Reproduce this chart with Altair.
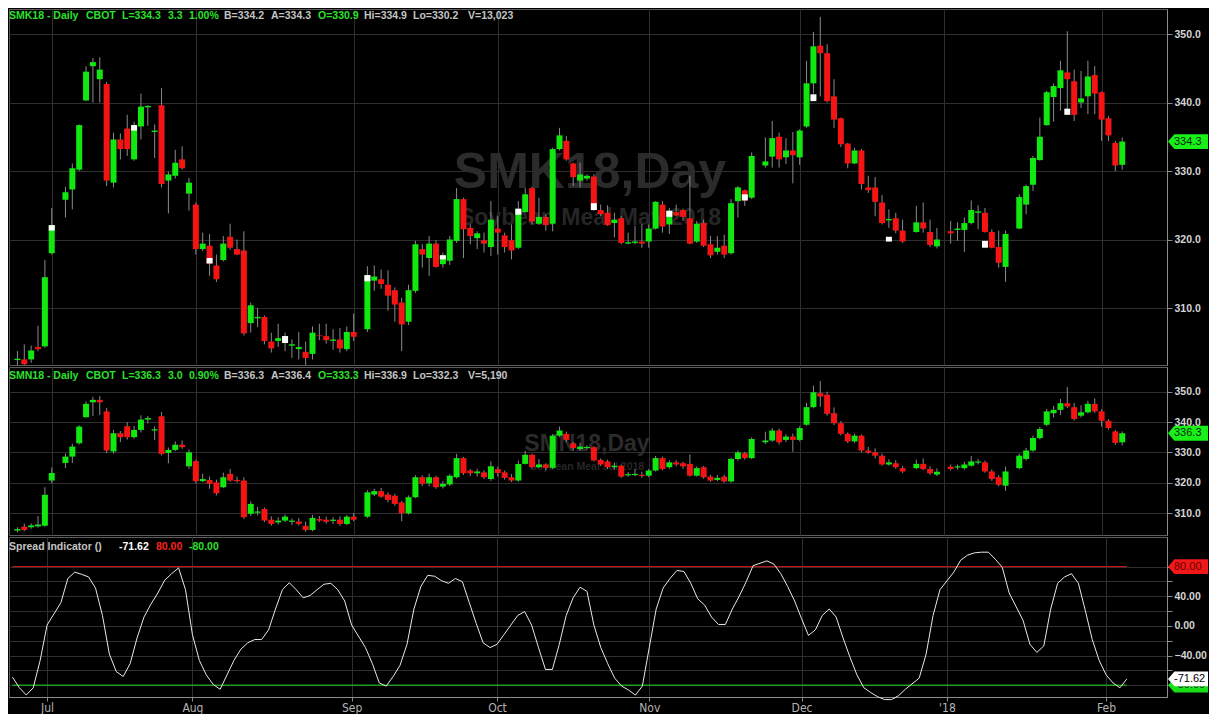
import json
import altair as alt
import numpy as np
import pandas as pd

# ---------------- calendar ----------------
FIRST_DAY = "2017-06-26"
LAST_DAY = "2018-02-06"
HOLIDAYS = ["2017-07-04", "2017-09-04", "2017-11-23", "2017-12-25", "2018-01-01", "2018-01-15"]
MONTH_STARTS = ["2017-07-03", "2017-08-01", "2017-09-01", "2017-10-02",
                "2017-11-01", "2017-12-01", "2018-01-01", "2018-02-01"]
MONTH_LABELS = ["Jul", "Aug", "Sep", "Oct", "Nov", "Dec", "'18", "Feb"]

# ---------------- SMK18 (upper panel) ----------------
smk_open = [302.4, 302.5, 302.5, 304.3, 304.4, 318.0,
            325.8, 327.3, 330.2, 340.3, 345.3, 343.4, 342.7, 328.3, 334.6, 336.2, 331.7, 336.5, 339.3, 335.7, 339.6, 328.6, 329.3, 331.7, 326.7,
            325.1, 318.6, 319.1, 316.2, 317.0, 320.4, 318.6, 318.4, 307.8, 308.5, 308.7, 305.1, 305.2, 304.9, 304.5, 304.0, 303.6, 303.3, 306.0, 305.9, 305.2, 305.4, 304.0, 306.5,
            306.9, 314.0, 314.2, 313.4, 312.6, 310.8, 308.0, 312.5, 318.6, 317.3, 319.4, 316.4, 316.9, 319.8, 325.9, 321.7, 320.2, 319.9, 318.9, 321.6, 320.6, 319.9, 318.8, 324.0, 327.5, 322.3, 323.3, 322.3, 333.2, 334.4, 331.1, 328.6, 328.9, 329.2, 324.3, 323.9, 322.4, 323.1, 319.4, 319.5, 319.7, 319.7, 321.6, 325.1, 322.2, 324.0, 324.3, 323.1, 319.7, 322.4, 319.3, 318.2, 319.1, 318.0, 325.6, 327.2, 326.1,
            330.8, 332.1, 335.0, 332.0, 333.0, 332.0, 336.5, 342.8, 348.3, 347.2, 340.9, 337.7, 334.0, 331.1, 333.0, 327.6, 327.6, 325.4, 322.8, 323.1, 321.3,
            321.1, 322.5, 321.1, 319.0,
            321.2, 321.4, 321.4, 322.4, 323.9, 323.9, 321.1, 318.9, 316.0,
            321.6, 325.1, 328.0, 331.6, 336.7, 340.8, 342.1, 344.4, 343.1, 340.0, 340.9, 344.0, 341.5, 337.7, 334.1, 330.9]
smk_high = [303.7, 304.7, 304.5, 307.4, 317.0, 324.6,
            327.7, 331.1, 336.8, 345.3, 346.5, 346.6, 343.0, 335.6, 335.5, 338.2, 337.2, 341.3, 339.6, 336.8, 342.1, 329.9, 333.1, 333.6, 329.0,
            325.4, 321.0, 320.8, 317.8, 320.5, 322.3, 320.0, 321.2, 310.8, 310.0, 308.9, 306.4, 307.7, 306.4, 305.4, 306.5, 305.1, 307.3, 307.7, 307.7, 306.9, 307.1, 307.3, 309.2,
            316.1, 316.2, 315.6, 315.5, 313.0, 311.5, 313.4, 319.8, 319.3, 320.5, 319.9, 318.1, 320.5, 327.5, 326.1, 322.2, 321.2, 321.0, 325.6, 323.4, 321.0, 322.2, 325.6, 327.5, 327.7, 326.1, 323.7, 333.4, 336.3, 335.1, 331.2, 331.2, 329.5, 329.5, 325.1, 325.0, 323.9, 323.4, 321.0, 322.0, 322.2, 322.2, 325.6, 325.6, 324.6, 325.1, 324.5, 329.3, 322.7, 322.9, 320.5, 320.5, 320.7, 325.9, 327.8, 327.3, 332.7,
            334.9, 337.3, 335.6, 334.8, 335.7, 336.1, 346.1, 350.3, 352.5, 348.5, 343.4, 337.8, 334.1, 333.4, 333.2, 329.3, 329.1, 326.5, 324.4, 323.9, 322.9,
            324.9, 325.4, 322.9, 321.7,
            322.7, 322.5, 323.2, 325.7, 325.0, 324.6, 321.5, 321.3, 321.3,
            326.6, 328.0, 332.2, 337.8, 341.7, 342.8, 346.1, 350.4, 344.8, 344.6, 346.1, 345.3, 341.6, 338.0, 334.4, 334.9]
smk_low = [301.5, 301.6, 302.0, 303.7, 304.2, 317.8,
           323.2, 324.4, 330.0, 340.2, 340.0, 340.0, 327.8, 327.6, 331.7, 332.2, 331.5, 334.6, 336.6, 331.9, 327.6, 323.8, 328.9, 330.2, 324.2,
           317.8, 318.3, 314.7, 313.8, 316.8, 318.5, 317.7, 306.0, 306.4, 307.2, 304.7, 303.5, 304.3, 303.7, 302.7, 302.5, 301.3, 302.5, 305.3, 304.8, 303.9, 303.5, 303.7, 305.2,
           306.5, 312.5, 312.8, 309.6, 308.0, 303.7, 307.5, 312.2, 315.9, 314.7, 315.9, 315.9, 316.3, 319.5, 317.3, 319.3, 318.6, 318.1, 317.6, 317.8, 318.1, 317.1, 318.6, 323.9, 322.2, 322.2, 321.3, 321.2, 333.0, 331.5, 327.8, 327.6, 328.6, 324.2, 323.4, 322.0, 320.3, 319.3, 319.3, 319.3, 318.8, 318.8, 321.5, 321.0, 320.8, 323.4, 322.7, 319.3, 319.5, 318.9, 317.3, 317.8, 317.3, 317.8, 323.2, 324.9, 325.9,
           330.5, 330.5, 330.5, 331.0, 328.2, 330.9, 336.3, 341.3, 340.9, 340.0, 336.3, 333.5, 330.4, 331.0, 327.3, 326.8, 323.4, 322.2, 321.7, 320.9, 319.5,
           321.0, 321.0, 318.9, 318.7,
           319.4, 319.8, 318.2, 322.2, 321.5, 321.0, 318.7, 315.9, 313.8,
           321.5, 323.7, 327.1, 331.5, 336.6, 337.2, 338.8, 338.3, 337.3, 339.2, 338.3, 338.3, 334.4, 334.4, 330.0, 330.2]
smk_close = [302.6, 301.8, 303.8, 304.0, 314.5, 322.1,
             326.9, 330.4, 336.7, 344.5, 345.9, 344.8, 328.6, 334.6, 333.2, 333.2, 336.7, 339.4, 339.5, 335.9, 328.1, 329.5, 331.2, 330.4, 328.3,
             318.6, 319.4, 316.5, 314.2, 319.4, 318.8, 317.8, 306.3, 310.4, 308.7, 305.2, 304.1, 305.6, 305.9, 304.7, 304.3, 302.7, 306.4, 305.9, 305.3, 305.4, 304.1, 306.5, 305.8,
             314.8, 314.6, 313.5, 311.8, 310.5, 307.6, 312.6, 319.3, 317.8, 319.4, 316.0, 317.7, 320.0, 325.9, 321.5, 320.5, 320.9, 319.4, 322.9, 321.0, 318.9, 318.4, 324.5, 326.6, 322.6, 323.3, 322.1, 333.2, 335.2, 331.7, 329.1, 329.5, 329.3, 324.3, 323.7, 322.1, 322.9, 319.5, 319.6, 319.7, 319.4, 321.6, 325.5, 321.9, 324.2, 323.5, 323.3, 319.4, 322.3, 319.1, 317.7, 318.8, 317.8, 325.3, 327.6, 325.7, 332.2,
             331.4, 334.8, 331.7, 333.0, 332.3, 335.9, 342.8, 348.2, 347.2, 340.2, 337.5, 333.9, 331.1, 333.0, 328.1, 327.2, 325.5, 322.4, 323.0, 321.3, 319.7,
             322.5, 321.6, 319.2, 320.0,
             320.9, 321.6, 322.4, 324.3, 324.1, 321.1, 318.8, 316.6, 320.8,
             326.2, 327.8, 331.9, 335.0, 341.5, 342.4, 344.7, 343.4, 338.2, 340.6, 343.8, 341.3, 337.5, 335.2, 330.8, 334.3]
# white settlement blocks drawn on some SMK18 candles
smk_white_day = ["2017-07-03", "2017-07-19", "2017-08-03", "2017-08-18", "2017-09-05", "2017-09-20",
                 "2017-10-05", "2017-10-20", "2017-11-06", "2017-11-21", "2017-12-05", "2017-12-20",
                 "2018-01-09", "2018-01-25"]
smk_white_top = [322.1, 336.7, 317.3, 305.9, 314.8, 317.7, 324.5, 325.3, 324.2, 326.6, 341.2, 320.4, 319.8, 339.1]
smk_white_bot = [321.3, 335.9, 316.5, 304.9, 313.9, 317.1, 323.6, 324.3, 323.3, 325.7, 340.2, 319.7, 318.8, 338.2]

# ---------------- SMN18 (middle panel) ----------------
smn_open = [304.2, 305.5, 305.3, 305.6, 305.8, 320.7,
            326.5, 328.6, 333.0, 341.6, 346.5, 347.3, 343.5, 330.3, 336.3, 338.6, 335.0, 337.4, 340.8, 337.2, 341.9, 329.8, 330.8, 332.5, 325.4,
            327.1, 320.5, 320.9, 320.1, 318.5, 322.9, 320.9, 320.7, 309.7, 310.1, 311.3, 307.8, 306.9, 307.5, 307.1, 307.2, 305.8, 304.4, 308.0, 307.8, 307.4, 307.8, 306.4, 308.8,
            308.8, 316.1, 317.2, 316.1, 315.7, 313.5, 309.9, 315.2, 321.8, 319.8, 321.8, 318.7, 319.4, 321.8, 328.1, 324.0, 323.1, 323.4, 321.2, 324.5, 323.4, 321.8, 320.7, 326.2, 329.2, 325.1, 326.0, 324.9, 335.5, 336.1, 333.0, 331.1, 331.4, 331.7, 327.5, 327.0, 325.1, 325.6, 322.4, 322.5, 322.6, 322.3, 324.0, 328.1, 325.1, 326.7, 326.4, 326.2, 322.3, 325.1, 322.0, 320.9, 322.0, 320.4, 327.8, 329.7, 328.1,
            333.3, 333.9, 337.2, 334.1, 335.2, 334.1, 339.1, 344.9, 349.5, 349.0, 342.9, 339.6, 336.1, 333.6, 335.5, 330.6, 330.0, 328.9, 326.0, 326.4, 324.8,
            324.8, 326.2, 324.5, 322.7,
            325.3, 325.0, 324.8, 325.6, 326.6, 326.7, 323.7, 321.8, 319.0,
            324.8, 327.8, 330.6, 334.7, 339.1, 342.9, 344.0, 346.2, 344.9, 342.1, 343.2, 346.0, 343.5, 340.4, 336.9, 333.3]
smn_high = [305.3, 306.5, 306.6, 309.0, 318.5, 325.0,
            329.6, 332.8, 338.9, 346.8, 348.3, 348.6, 344.6, 337.4, 337.0, 340.0, 338.7, 342.2, 342.0, 338.6, 343.3, 331.6, 333.6, 333.9, 330.9,
            327.6, 323.0, 322.0, 321.0, 323.3, 324.5, 322.0, 321.8, 313.8, 312.0, 311.8, 308.9, 308.6, 309.5, 308.2, 308.3, 307.2, 309.4, 309.0, 308.8, 308.6, 308.9, 309.3, 310.0,
            317.5, 318.0, 318.3, 316.8, 316.3, 314.0, 315.8, 322.5, 322.4, 323.0, 322.3, 320.5, 322.8, 329.5, 328.5, 324.5, 324.6, 324.1, 327.0, 325.3, 324.0, 322.8, 327.3, 330.5, 329.5, 327.8, 326.4, 336.0, 338.5, 336.8, 333.4, 333.2, 332.3, 332.0, 328.0, 327.6, 326.6, 326.0, 323.5, 324.3, 323.6, 324.5, 328.8, 328.6, 327.4, 327.4, 326.9, 329.3, 325.4, 325.5, 322.6, 322.5, 322.6, 328.3, 330.6, 330.2, 334.9,
            336.8, 338.0, 337.8, 336.0, 336.2, 338.6, 346.3, 352.0, 353.5, 350.0, 344.8, 340.3, 336.6, 336.2, 335.9, 331.8, 331.3, 329.6, 327.7, 327.4, 325.5,
            327.6, 328.0, 325.4, 324.7,
            326.0, 326.0, 326.9, 328.8, 327.8, 327.3, 324.4, 322.5, 325.3,
            329.6, 331.5, 335.5, 338.4, 344.3, 345.3, 347.6, 351.5, 346.3, 345.5, 347.0, 347.8, 344.2, 341.0, 337.4, 336.9]
smn_low = [303.6, 304.0, 304.8, 305.2, 305.5, 319.8,
           324.8, 326.5, 332.6, 341.4, 342.0, 342.3, 329.8, 329.6, 333.4, 334.2, 334.5, 336.6, 339.5, 334.0, 329.0, 326.4, 330.4, 331.2, 324.6,
           319.8, 320.2, 318.0, 315.8, 318.2, 320.3, 320.0, 308.1, 309.0, 309.2, 307.0, 305.8, 306.2, 307.0, 306.0, 305.9, 303.8, 304.0, 307.0, 306.5, 306.4, 305.8, 306.0, 307.3,
           308.4, 315.6, 315.0, 313.5, 312.4, 307.3, 309.5, 314.9, 318.9, 318.8, 318.0, 318.1, 318.9, 321.4, 322.5, 322.2, 322.0, 321.2, 320.6, 322.0, 321.0, 320.2, 320.3, 326.0, 324.8, 324.8, 324.1, 324.5, 335.1, 333.5, 330.6, 330.5, 331.0, 327.0, 325.5, 324.5, 324.3, 321.6, 322.0, 322.1, 321.6, 321.8, 323.7, 324.0, 324.6, 325.4, 324.6, 322.0, 322.0, 321.3, 320.3, 320.5, 320.0, 320.0, 327.3, 327.6, 327.8,
           332.8, 333.5, 332.6, 333.4, 330.2, 333.6, 338.8, 344.5, 345.0, 342.1, 339.0, 335.6, 333.1, 333.1, 330.0, 329.5, 328.0, 325.6, 325.6, 324.6, 323.2,
           324.4, 324.1, 322.6, 322.2,
           324.0, 324.3, 324.3, 325.3, 326.0, 323.3, 320.6, 318.8, 317.3,
           324.4, 327.3, 330.2, 334.3, 338.6, 341.5, 342.3, 344.6, 340.5, 341.5, 342.8, 343.0, 338.5, 337.5, 332.5, 332.3]
smn_close = [304.7, 304.4, 305.9, 306.2, 316.0, 323.2,
             328.6, 331.9, 338.5, 346.0, 347.3, 346.5, 330.6, 336.3, 335.0, 335.0, 337.4, 340.8, 341.3, 337.6, 329.5, 330.8, 332.5, 331.7, 330.0,
             320.5, 321.2, 319.6, 316.5, 321.8, 320.7, 320.5, 308.6, 313.0, 310.5, 307.5, 306.4, 307.5, 308.8, 307.5, 306.4, 304.4, 308.4, 307.5, 307.1, 307.8, 306.4, 308.8, 307.8,
             316.8, 317.2, 315.4, 314.3, 313.0, 309.9, 315.2, 321.8, 319.6, 321.8, 318.5, 319.6, 322.3, 328.1, 323.1, 323.1, 323.7, 321.8, 325.4, 323.2, 321.6, 320.7, 326.2, 329.2, 325.1, 326.0, 324.9, 335.5, 337.2, 334.1, 331.4, 331.9, 331.8, 327.3, 326.0, 325.1, 325.6, 322.0, 322.8, 322.9, 322.2, 324.0, 328.1, 324.5, 326.7, 326.0, 325.4, 322.3, 324.8, 321.8, 320.7, 321.6, 320.4, 327.8, 330.0, 328.1, 334.4,
             333.9, 337.2, 333.3, 335.2, 334.1, 338.0, 344.9, 349.8, 348.4, 342.7, 339.6, 336.1, 333.6, 335.5, 330.6, 329.9, 328.9, 326.0, 326.7, 325.1, 323.7,
             326.2, 324.5, 323.1, 323.6,
             324.5, 325.4, 326.0, 327.0, 327.0, 323.7, 321.2, 319.3, 323.7,
             328.9, 330.6, 334.7, 337.7, 343.5, 344.0, 346.2, 345.1, 341.0, 343.2, 346.0, 343.5, 340.4, 338.0, 333.1, 336.3]

# ---------------- Spread indicator (lower panel) ----------------
spread = [-69.2, -83.5, -93.4, -83.5, -46.6, 1.1,
          31.4, 64.0, 72.6, 69.6, 66.1, 51.0, 14.1, -38.0, -61.8, -68.3, -51.0, -16.3, 11.9, 29.3, 44.4, 61.8, 70.5, 78.3, 48.8,
          -11.9, -46.6, -66.1, -79.1, -85.6, -66.1, -46.6, -31.4, -22.8, -18.4, -18.4, -5.4, 22.8, 48.8, 58.3, 48.8, 37.9, 41.0, 48.8, 56.2, 57.5, 48.8, 33.6, 1.1,
          -29.3, -51.0, -77.0, -81.3, -68.3, -53.1, -24.9, 22.8, 53.1, 68.3, 67.0, 60.9, 57.5, 64.0, 59.6, 31.4, 3.3, -22.8, -29.3, -24.9, -11.9, 1.1, 14.1, 19.3, 1.1, -29.3, -58.8, -58.8, -24.9, 14.1, 37.9, 52.2, 46.6, 1.1, -29.3, -51.0, -70.5, -81.3, -86.5, -93.4, -81.3, -29.3, 22.8, 51.0, 64.0, 74.8, 73.5, 57.5, 36.6, 28.0, 11.9, 1.9, 1.9, 22.8, 40.1, 59.6, 81.3,
          87.8, 83.5, 70.5, 53.1, 33.6, 9.8, -12.8, -5.4, 14.1, 22.8, 11.9, -16.3, -42.3, -66.1, -83.5, -90.0, -95.6, -99.5, -99.5, -94.3, -85.6,
          -70.5, -38.0, 14.1, 48.8,
          72.6, 88.7, 95.6, 98.6, 99.5, 99.5, 90.0, 79.1, 44.4,
          7.6, -24.9, -35.8, -27.1, 22.8, 57.5, 66.1, 70.5, 57.5, 20.6, -18.4, -46.6, -66.1, -77.0, -83.5, -71.62]
spread_upper = 80.0
spread_lower = -80.0

# ---------------- header texts ----------------
smk_title = ["SMK18 - Daily", "CBOT", "L=334.3", "3.3", "1.00%", "B=334.2", "A=334.3",
             "O=330.9", "Hi=334.9", "Lo=330.2", "V=13,023"]
smn_title = ["SMN18 - Daily", "CBOT", "L=336.3", "3.0", "0.90%", "B=336.3", "A=336.4",
             "O=333.3", "Hi=336.9", "Lo=332.3", "V=5,190"]
spread_title = ["Spread Indicator ()", "-71.62", "80.00", "-80.00"]
smk_watermark = ["SMK18,Day", "Soybean Meal May 2018"]
smn_watermark = ["SMN18,Day", "Soybean Meal Jul 2018"]

# ================= build tables =================
weekdays = pd.bdate_range(FIRST_DAY, LAST_DAY)
wpos = {d.strftime("%Y-%m-%d"): k for k, d in enumerate(weekdays)}
day_idx = [wpos[d.strftime("%Y-%m-%d")] for d in weekdays if d.strftime("%Y-%m-%d") not in HOLIDAYS]
month_idx = [wpos[d] for d in MONTH_STARTS]

for name, arr in [("smk_open", smk_open), ("smk_high", smk_high), ("smk_low", smk_low), ("smk_close", smk_close),
                  ("smn_open", smn_open), ("smn_high", smn_high), ("smn_low", smn_low), ("smn_close", smn_close),
                  ("spread", spread)]:
    if len(arr) != len(day_idx):
        raise ValueError(f"{name}: {len(arr)} values for {len(day_idx)} days")


def ohlc(o, h, l, c):
    df = pd.DataFrame({"i": day_idx, "o": o, "h": h, "l": l, "c": c})
    df["dir"] = np.where(df["c"] >= df["o"], "up", "down")
    return df


smk_df = ohlc(smk_open, smk_high, smk_low, smk_close)
smn_df = ohlc(smn_open, smn_high, smn_low, smn_close)
white_df = pd.DataFrame({"i": [wpos[d] for d in smk_white_day], "top": smk_white_top, "bot": smk_white_bot})
spread_df = pd.DataFrame({"i": day_idx, "v": spread})

# ================= styling =================
W = 1158
X_DOMAIN = [-0.5, 166.8]
GRID = "#2f2f2f"
AXIS_GRAY = "#8c8c8c"
GREEN = "#10e810"
RED = "#f41414"
WICK = "#8a8a8a"
FONT = "Liberation Sans"
TXT_GREEN = "#2ee02e"
TXT_GRAY = "#c4c4c4"
WM = "#2b2b2b"
TAG_PATH = "M -1 0 L -0.68 -0.37 L 1 -0.37 L 1 0.37 L -0.68 0.37 Z"
ONE = pd.DataFrame({"k": [0]})

xscale = alt.Scale(domain=X_DOMAIN, nice=False, zero=False)
grid_x_axis = alt.Axis(values=month_idx, grid=True, gridColor=GRID, labels=False, ticks=False,
                       domain=False, title=None)
label_expr = "{}[indexof({}, datum.value)]".format(json.dumps(MONTH_LABELS), json.dumps(month_idx))
bottom_x_axis = alt.Axis(values=month_idx, grid=True, gridColor=GRID, labels=True, labelExpr=label_expr,
                         labelFont="Liberation Sans Narrow, DejaVu Sans Condensed, Liberation Sans",
                         labelFontSize=12, labelColor="#b4b4b4", labelPadding=1, labelOverlap=False,
                         ticks=True, tickSize=4, tickColor=AXIS_GRAY, domain=True, domainColor=AXIS_GRAY,
                         title=None)


def y_axis(values, fmt, expr=None):
    kw = dict(orient="right", values=values, format=fmt, grid=True, gridColor=GRID, ticks=True, tickSize=5,
              tickColor=AXIS_GRAY, domain=True, domainColor=AXIS_GRAY, labelColor="#d4d4d4", labelFont=FONT,
              labelFontWeight="bold", labelFontSize=10.5, labelPadding=2, labelOverlap=False, title=None)
    if expr:
        kw["labelExpr"] = expr
    return alt.Axis(**kw)


def text_at(txt, x, y, color, size, weight="bold", align="left"):
    return alt.Chart(ONE).mark_text(text=txt, align=align, baseline="alphabetic", font=FONT, fontSize=size,
                                    fontWeight=weight, color=color).encode(x=alt.value(x), y=alt.value(y))


TITLE_X = [0, 77, 113, 159, 180, 215, 262, 309, 355, 404, 459]
TITLE_ROLE = [TXT_GREEN] * 5 + [TXT_GRAY, TXT_GRAY, TXT_GREEN, TXT_GRAY, TXT_GRAY, TXT_GRAY]


def title_layers(tokens, y):
    return [text_at(t, x, y, c, 10.5) for t, x, c in zip(tokens, TITLE_X, TITLE_ROLE)]


def tag_layers(value, label, fill, text_color, yscale, yax):
    d = pd.DataFrame({"v": [value], "t": [label]})
    Y = alt.Y("v:Q", scale=yscale, axis=yax)
    shape = alt.Chart(d).mark_point(shape=TAG_PATH, filled=True, size=1600, opacity=1, color=fill,
                                    strokeWidth=0).encode(x=alt.value(W + 21), y=Y)
    txt = alt.Chart(d).mark_text(align="left", baseline="middle", font=FONT, fontSize=11,
                                 color=text_color).encode(x=alt.value(W + 7), y=Y, text="t:N")
    return [shape, txt]


def candle_layers(df, yscale, yax, xaxis):
    X = alt.X("i:Q", scale=xscale, axis=xaxis)
    wick = alt.Chart(df).mark_rule(color=WICK, strokeWidth=1, clip=True).encode(
        x=X, y=alt.Y("l:Q", scale=yscale, axis=yax), y2="h:Q")
    up = alt.Chart(df).transform_filter("datum.dir == 'up'").mark_bar(size=6, clip=True, color=GREEN).encode(
        x=X, y=alt.Y("o:Q", scale=yscale, axis=yax), y2="c:Q")
    down = alt.Chart(df).transform_filter("datum.dir == 'down'").mark_bar(size=6, clip=True, color=RED).encode(
        x=X, y=alt.Y("o:Q", scale=yscale, axis=yax), y2="c:Q")
    return [wick, up, down]


# ---------------- upper panel ----------------
top_scale = alt.Scale(domain=[301.68, 353.65], nice=False, zero=False)
top_axis = y_axis([310, 320, 330, 340, 350], ".1f")
white = alt.Chart(white_df).mark_bar(size=6, color="#ffffff", clip=True).encode(
    x=alt.X("i:Q", scale=xscale, axis=grid_x_axis),
    y=alt.Y("top:Q", scale=top_scale, axis=top_axis), y2="bot:Q")
top = alt.layer(
    text_at(smk_watermark[0], 581, 179, WM, 50, align="center"),
    text_at(smk_watermark[1], 581, 216, "#262626", 23, align="center"),
    *candle_layers(smk_df, top_scale, top_axis, grid_x_axis),
    white,
    *title_layers(smk_title, 10),
    *tag_layers(smk_close[-1], f"{smk_close[-1]:.1f}", "#18f018", "#0a2a0a", top_scale, top_axis),
).properties(width=W, height=356)

# ---------------- middle panel ----------------
mid_scale = alt.Scale(domain=[302.75, 358.14], nice=False, zero=False)
mid_axis = y_axis([310, 320, 330, 340, 350], ".1f")
mid = alt.layer(
    text_at(smn_watermark[0], 578, 84, WM, 23, align="center"),
    text_at(smn_watermark[1], 578, 103, "#262626", 10.5, align="center"),
    *candle_layers(smn_df, mid_scale, mid_axis, grid_x_axis),
    *title_layers(smn_title, 12),
    *tag_layers(smn_close[-1], f"{smn_close[-1]:.1f}", "#18f018", "#0a2a0a", mid_scale, mid_axis),
).properties(width=W, height=168)

# ---------------- lower panel ----------------
bot_scale = alt.Scale(domain=[-96, 120], nice=False, zero=False)
bot_axis = y_axis([-80, -60, -40, -20, 0, 20, 40, 60, 80], ".2f",
                  expr="(abs(datum.value) == 40 || datum.value == 0) ? datum.label : ''")


def level_rule(value, color):
    d = pd.DataFrame({"v": [value], "x0": [day_idx[0]], "x1": [day_idx[-1]]})
    return alt.Chart(d).mark_rule(strokeWidth=1, color=color).encode(
        x=alt.X("x0:Q", scale=xscale, axis=bottom_x_axis), x2="x1:Q",
        y=alt.Y("v:Q", scale=bot_scale, axis=bot_axis))


line = alt.Chart(spread_df).mark_line(color="#e8e8e8", strokeWidth=1).encode(
    x=alt.X("i:Q", scale=xscale, axis=bottom_x_axis),
    y=alt.Y("v:Q", scale=bot_scale, axis=bot_axis))
SPREAD_X = [0, 110, 147, 180]
SPREAD_C = [TXT_GRAY, "#ffffff", "#ff2020", TXT_GREEN]
bot = alt.layer(
    level_rule(spread_upper, "#d81818"), level_rule(spread_lower, "#22d822"), line,
    *[text_at(t, x, 13, c, 10.5) for t, x, c in zip(spread_title, SPREAD_X, SPREAD_C)],
    *tag_layers(spread_upper, f"{spread_upper:.2f}", "#f01818", "#6a0000", bot_scale, bot_axis),
    *tag_layers(spread_lower, f"{spread_lower:.2f}", "#18e018", "#063006", bot_scale, bot_axis),
    *tag_layers(spread[-1], f"{spread[-1]:.2f}", "#ffffff", "#000000", bot_scale, bot_axis),
).properties(width=W, height=160)

chart = alt.vconcat(top, mid, bot, spacing=0, padding=0, background="#000000").configure_view(
    stroke="#5c5c5c", strokeWidth=1)

chart.save("out.html", embed_options={"renderer": "svg", "actions": False})
